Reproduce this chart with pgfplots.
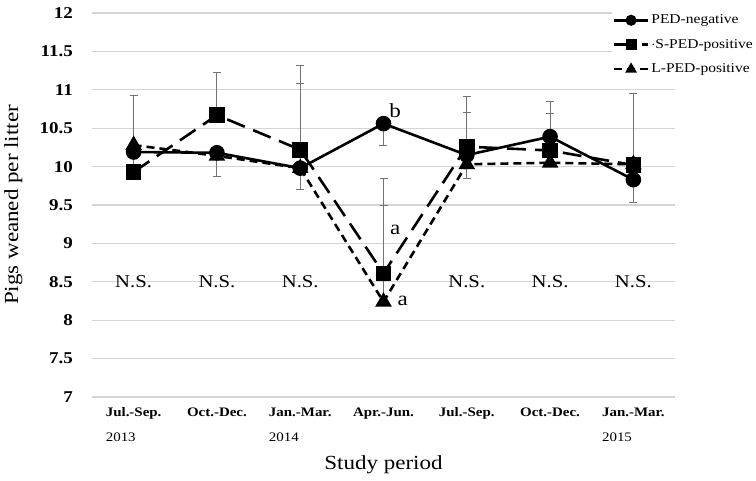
\documentclass[border=0pt]{standalone}
\usepackage{fontspec}
\setmainfont{Liberation Serif}[FakeStretch=1.15]
\usepackage{pgfplots}
\pgfplotsset{compat=1.18}
\begin{document}
\begin{tikzpicture}
\path[use as bounding box] (-92pt,-83pt) rectangle (664pt,397pt);
\begin{axis}[
  at={(0pt,0pt)}, anchor=south west,
  scale only axis, width=583pt, height=384pt,
  xmin=0.5, xmax=7.5, ymin=7, ymax=12,
  clip=false,
  xtick={1,2,3,4,5,6,7},
  xticklabels={{\textbf{Jul.-Sep.}\\2013},{\textbf{Oct.-Dec.}},{\textbf{Jan.-Mar.}\\2014},{\textbf{Apr.-Jun.}},{\textbf{Jul.-Sep.}},{\textbf{Oct.-Dec.}},{\textbf{Jan.-Mar.}\\2015}},
  x tick label style={align=left, anchor=north, font=\fontsize{13}{25}\selectfont, yshift=-7pt},
  ytick={7,7.5,8,8.5,9,9.5,10,10.5,11,11.5,12},
  yticklabel style={font=\fontsize{16.5}{18}\selectfont\bfseries, anchor=east, inner sep=0pt, xshift=-19pt},
  /pgf/number format/assume math mode=true,
  ymajorgrids, major grid style={draw=black!17, line width=1.3pt},
  axis line style={draw=none}, major tick length=0pt,
  xlabel={Study period}, xlabel style={font=\fontsize{20}{22}\selectfont, at={(axis description cs:0.5,-0.177)}, anchor=center},
  ylabel={Pigs weaned per litter}, ylabel style={font=\fontsize{20}{22}\selectfont, at={(axis description cs:-0.135,0.5)}, anchor=center},
  legend style={draw=none, fill=white, font=\fontsize{13.5}{15}\selectfont, at={(axis description cs:1.139,1.003)}, anchor=north east, row sep=10pt, cells={anchor=west}, inner sep=1pt},
  legend image code/.code={\draw[mark repeat=2,mark phase=2,#1,mark size=4.2pt] plot coordinates {(0pt,0pt) (17pt,0pt) (34pt,0pt)};},
  error bars/y dir=both, error bars/y explicit,
  error bars/error bar style={draw=black!55, line width=0.9pt, solid},
  error bars/error mark options={rotate=90, mark size=4pt, draw=black!55, line width=0.9pt, solid},
]
\addplot[black, line width=2.6pt, mark=*, mark size=6.5pt, mark options={solid}]
 coordinates {
 (1,10.19) += (0,0) -= (0,0)
 (2,10.18) += (0,0) -= (0,0.31)
 (3,9.98) += (0,0) -= (0,0.28)
 (4,10.56) += (0,0) -= (0,0.28)
 (5,10.15) += (0,0.55) -= (0,0)
 (6,10.39) += (0,0.46) -= (0,0)
 (7,9.83) += (0,0) -= (0,0.30)
 };
\addlegendentry{PED-negative}
\addplot[black, line width=2.6pt, dash pattern=on 19pt off 9pt, mark=square*, mark size=6.5pt, mark options={solid}]
 coordinates {
 (1,9.93) += (0,0.99) -= (0,0)
 (2,10.67) += (0,0.55) -= (0,0)
 (3,10.22) += (0,1.10) -= (0,0)
 (4,8.61) += (0,1.24) -= (0,0)
 (5,10.26) += (0,0.65) -= (0,0)
 (6,10.21) += (0,0.48) -= (0,0)
 (7,10.02) += (0,0.93) -= (0,0)
 };
\addlegendentry{$\cdot$S-PED-positive}
\addplot[black, line width=2.6pt, dash pattern=on 8pt off 5pt, mark=triangle*, mark size=7pt, mark options={solid}]
 coordinates {
 (1,10.28) += (0,0) -= (0,0)
 (2,10.14) += (0,0) -= (0,0)
 (3,9.98) += (0,1.10) -= (0,0)
 (4,8.24) += (0,1.25) -= (0,0)
 (5,10.03) += (0,0) -= (0,0.18)
 (6,10.05) += (0,0) -= (0,0)
 (7,10.03) += (0,0) -= (0,0)
 };
\addlegendentry{L-PED-positive}
\node[font=\fontsize{18}{20}\selectfont] at (axis cs:1,8.5) {N.S.};
\node[font=\fontsize{18}{20}\selectfont] at (axis cs:2,8.5) {N.S.};
\node[font=\fontsize{18}{20}\selectfont] at (axis cs:3,8.5) {N.S.};
\node[font=\fontsize{18}{20}\selectfont] at (axis cs:5,8.5) {N.S.};
\node[font=\fontsize{18}{20}\selectfont] at (axis cs:6,8.5) {N.S.};
\node[font=\fontsize{18}{20}\selectfont] at (axis cs:7,8.5) {N.S.};
\node[font=\fontsize{20}{22}\selectfont] at (axis cs:4.14,10.73) {b};
\node[font=\fontsize{20}{22}\selectfont] at (axis cs:4.14,9.17) {a};
\node[font=\fontsize{20}{22}\selectfont] at (axis cs:4.23,8.25) {a};
\end{axis}
\end{tikzpicture}
\end{document}
